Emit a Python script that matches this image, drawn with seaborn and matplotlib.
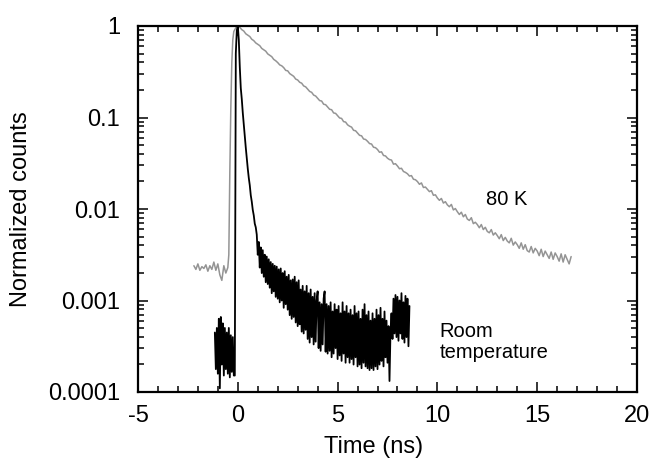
import numpy as np
import pandas as pd
import matplotlib
matplotlib.use("Agg")
import matplotlib.pyplot as plt
from matplotlib.ticker import MultipleLocator, FixedLocator, LogLocator, NullFormatter, FixedFormatter
import seaborn as sns

# ---------------- data (log10 of normalized counts) ----------------
# 80 K trace: baseline + rise (explicit times)
gray_pre_t = [-2.2, -2.1, -2.0, -1.9, -1.8, -1.7, -1.6, -1.5, -1.4, -1.3, -1.2, -1.1,
              -1.0, -0.9, -0.8, -0.7, -0.6, -0.5, -0.45, -0.4, -0.35, -0.3, -0.25, -0.2, -0.1]
gray_pre_log = [-2.62, -2.66, -2.60, -2.67, -2.63, -2.65, -2.61, -2.68, -2.62, -2.66, -2.58, -2.67,
                -2.60, -2.72, -2.78, -2.62, -2.70, -2.64, -2.50, -1.60, -0.90, -0.40, -0.15, -0.06, -0.02]
# 80 K decay, channels every 0.1 ns from 0 to 16.7 ns
gray_decay_start, gray_decay_step = 0.0, 0.1
gray_decay_log = [
    0.0, -0.015, -0.04, -0.055, -0.085, -0.10, -0.115, -0.145, -0.16, -0.185,
    -0.20, -0.215, -0.245, -0.26, -0.275, -0.305, -0.32, -0.335, -0.365, -0.38,
    -0.40, -0.425, -0.435, -0.455, -0.485, -0.49, -0.52, -0.535, -0.55, -0.58,
    -0.59, -0.615, -0.625, -0.655, -0.665, -0.69, -0.715, -0.725, -0.755, -0.765,
    -0.79, -0.815, -0.82, -0.855, -0.86, -0.885, -0.91, -0.915, -0.95, -0.955,
    -0.98, -1.005, -1.01, -1.045, -1.05, -1.08, -1.095, -1.105, -1.14, -1.145,
    -1.17, -1.195, -1.20, -1.235, -1.24, -1.26, -1.285, -1.29, -1.325, -1.33,
    -1.35, -1.38, -1.375, -1.415, -1.42, -1.445, -1.46, -1.465, -1.51, -1.505,
    -1.53, -1.56, -1.555, -1.59, -1.60, -1.615, -1.64, -1.635, -1.675, -1.68,
    -1.70, -1.73, -1.715, -1.765, -1.76, -1.785, -1.81, -1.80, -1.85, -1.845,
    -1.88, -1.905, -1.885, -1.935, -1.92, -1.955, -1.975, -1.95, -2.01, -1.995,
    -2.03, -2.06, -2.035, -2.085, -2.06, -2.11, -2.125, -2.095, -2.16, -2.145,
    -2.17, -2.205, -2.17, -2.225, -2.20, -2.245, -2.26, -2.225, -2.285, -2.26,
    -2.29, -2.325, -2.28, -2.345, -2.31, -2.35, -2.37, -2.32, -2.395, -2.36,
    -2.39, -2.43, -2.37, -2.44, -2.39, -2.455, -2.47, -2.41, -2.48, -2.43,
    -2.46, -2.51, -2.44, -2.52, -2.46, -2.50, -2.54, -2.47, -2.55, -2.48,
    -2.52, -2.57, -2.49, -2.58, -2.50, -2.55, -2.60, -2.52,
]

# Room temperature trace, channels every 0.05 ns from -1.15 to 8.6 ns
black_start, black_step = -1.15, 0.05
black_log = [
    # pre-pulse noise (-1.15 .. -0.15)
    -3.35, -3.75, -3.30, -3.80, -3.20, -3.96, -3.18, -3.70, -3.25, -3.82,
    -3.30, -3.75, -3.35, -3.80, -3.30, -3.84, -3.38, -3.78, -3.40, -3.82, -3.82,
    # rise and fast decay (-0.1 .. 0.9)
    -0.30, -0.05, 0.0, -0.15, -0.45, -0.68, -0.80, -0.95, -1.08, -1.20,
    -1.33, -1.45, -1.56, -1.66, -1.74, -1.85, -1.92, -2.01, -2.07, -2.16, -2.20,
    # noisy tail (0.95 .. 8.6)
    -2.28, -2.50, -2.36, -2.64, -2.42, -2.70, -2.45, -2.74, -2.50, -2.80,
    -2.52, -2.82, -2.55, -2.86, -2.58, -2.92, -2.60, -2.90, -2.62, -2.96,
    -2.63, -2.98, -2.66, -3.02, -2.65, -3.00, -2.70, -3.08, -2.68, -3.04,
    -2.74, -3.10, -2.72, -3.16, -2.78, -3.20, -2.77, -3.18, -2.74, -3.24,
    -2.80, -3.28, -2.78, -3.26, -2.88, -3.34, -2.84, -3.36, -2.90, -3.32,
    -2.84, -3.42, -2.92, -3.46, -2.88, -3.40, -2.96, -3.48, -2.92, -3.45,
    -3.00, -2.90, -3.52, -3.02, -3.55, -3.04, -3.48, -2.98, -2.90, -3.56,
    -3.04, -3.58, -3.06, -3.55, -3.02, -3.62, -3.12, -3.58, -3.04, -3.52,
    -3.10, -3.64, -3.06, -3.60, -3.14, -3.66, -3.02, -3.58, -3.12, -3.68,
    -3.06, -3.62, -3.14, -3.68, -3.10, -3.64, -3.16, -3.70, -3.06, -3.62,
    -3.14, -3.72, -3.12, -3.70, -3.20, -3.74, -3.10, -3.68, -3.04, -3.72,
    -3.16, -3.74, -3.12, -3.76, -3.22, -3.74, -3.14, -3.76, -3.20, -3.72,
    -3.10, -3.75, -3.16, -3.70, -3.08, -3.66, -3.20, -3.72, -3.12, -3.62,
    -3.22, -3.68, -3.28, -3.88, -3.34, -3.14, -3.42, -2.98, -3.36, -2.94,
    -3.40, -2.96, -3.44, -3.00, -3.36, -2.92, -3.42, -3.02, -3.46, -2.95,
    -3.40, -2.98, -3.50, -3.06,
]

x_ticks = [-5, 0, 5, 10, 15, 20]
x_ticklabels = ["-5", "0", "5", "10", "15", "20"]
y_ticks = [1e-4, 1e-3, 1e-2, 1e-1, 1]
y_ticklabels = ["0.0001", "0.001", "0.01", "0.1", "1"]

# ---------------- build tables ----------------
gray_t = np.concatenate([gray_pre_t,
                         np.round(gray_decay_start + gray_decay_step * np.arange(len(gray_decay_log)), 3)])
gray_y = 10.0 ** np.array(gray_pre_log + gray_decay_log)
gray_df = pd.DataFrame({"t": gray_t, "counts": gray_y})

black_t = np.round(black_start + black_step * np.arange(len(black_log)), 3)
black_df = pd.DataFrame({"t": black_t, "counts": 10.0 ** np.array(black_log)})

# ---------------- plot ----------------
sns.set_style("ticks")
plt.rcParams["font.family"] = ["Liberation Sans", "DejaVu Sans"]
plt.rcParams["text.color"] = "black"
plt.rcParams["axes.labelcolor"] = "black"
plt.rcParams["xtick.color"] = "black"
plt.rcParams["ytick.color"] = "black"

fig = plt.figure(figsize=(6.52, 4.66), dpi=100)
ax = fig.add_axes([138 / 652, 1 - 392 / 466, 499 / 652, 366 / 466])

sns.lineplot(data=gray_df, x="t", y="counts", estimator=None, sort=False,
             color="#949494", lw=1.1, ax=ax)
sns.lineplot(data=black_df, x="t", y="counts", estimator=None, sort=False,
             color="black", lw=1.3, ax=ax)

ax.set_yscale("log")
ax.set_xlim(-5, 20)
ax.set_ylim(1e-4, 1)

ax.xaxis.set_major_locator(FixedLocator(x_ticks))
ax.xaxis.set_major_formatter(FixedFormatter(x_ticklabels))
ax.xaxis.set_minor_locator(MultipleLocator(1))
ax.yaxis.set_major_locator(FixedLocator(y_ticks))
ax.yaxis.set_major_formatter(FixedFormatter(y_ticklabels))
ax.yaxis.set_minor_locator(LogLocator(base=10, subs=np.arange(2, 10), numticks=20))
ax.yaxis.set_minor_formatter(NullFormatter())

ax.tick_params(which="both", direction="in", top=True, right=True, width=1.1,
               color="black", labelcolor="black")
ax.tick_params(which="major", length=7)
ax.tick_params(which="minor", length=4)
ax.tick_params(axis="y", which="major", pad=13, labelsize=17)
ax.tick_params(axis="x", which="major", pad=9, labelsize=17)
for s in ax.spines.values():
    s.set_linewidth(1.6)
    s.set_color("black")

ax.set_xlabel("Time (ns)", fontsize=17, color="black")
ax.set_ylabel("Normalized counts", fontsize=17, color="black")
ax.xaxis.set_label_coords(0.473, -0.12)
ax.yaxis.set_label_coords(-0.212, 0.5)

ax.text(13.45, 10 ** -1.90, "80 K", fontsize=14.5, ha="center", va="center", color="black")
ax.text(10.1, 10 ** -3.45, "Room\ntemperature", fontsize=14.5, ha="left", va="center",
        linespacing=1.15, color="black")

fig.savefig("out.png", dpi=100)
